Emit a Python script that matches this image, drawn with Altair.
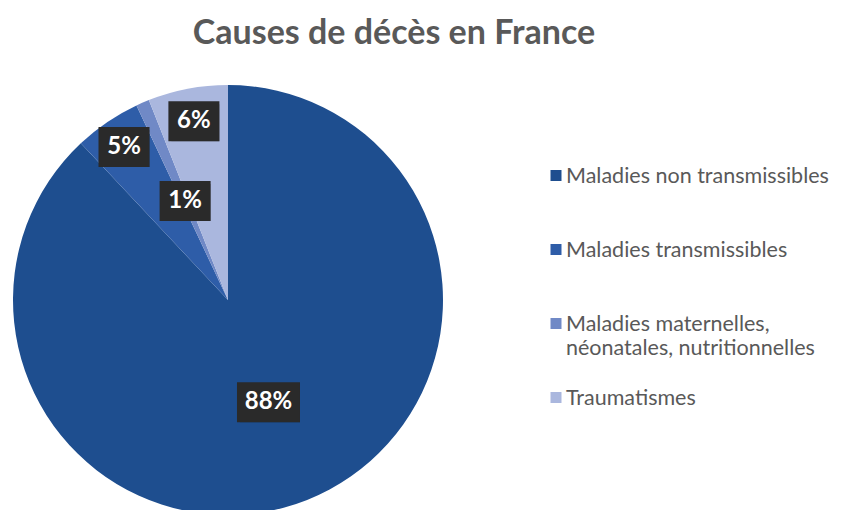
import altair as alt
import pandas as pd

# ---- data ----
TITLE = "Causes de décès en France"
categories = [
    "Maladies non transmissibles",
    "Maladies transmissibles",
    "Maladies maternelles, néonatales, nutritionnelles",
    "Traumatismes",
]
legend_labels = [
    "Maladies non transmissibles",
    "Maladies transmissibles",
    "Maladies maternelles,\nnéonatales, nutritionnelles",
    "Traumatismes",
]
percentages = [88, 5, 1, 6]
labels = ["88%", "5%", "1%", "6%"]

# ---- style / layout ----
colors = ["#1E4E8F", "#2E5DA8", "#7089C6", "#AAB7DE"]
label_radius = [110, 185, 108, 182]
W, H = 829, 502
CX, CY, R = 220, 292, 215
LEG_X, LEG_Y0, LEG_STEP = 548, 167.5, 74
FONT = "Lato"
GREY = "#595959"

df = pd.DataFrame({
    "cause": categories,
    "legend": legend_labels,
    "value": percentages,
    "label": labels,
    "idx": list(range(len(categories))),
    "lr": label_radius,
})

color = alt.Color("cause:N", scale=alt.Scale(domain=categories, range=colors), legend=None)
base = alt.Chart(df)

pie = base.mark_arc(outerRadius=R).encode(
    theta=alt.Theta("value:Q", stack=True),
    order=alt.Order("idx:Q"),
    color=color,
    x=alt.value(CX),
    y=alt.value(CY),
)

lab = base.transform_window(
    cum="sum(value)", frame=[None, 0], sort=[{"field": "idx"}]
).transform_joinaggregate(
    total="sum(value)"
).transform_calculate(
    mid="(datum.cum - datum.value/2)/datum.total*2*PI",
    px=f"{CX} + datum.lr*sin(datum.mid)",
    py=f"{CY} - datum.lr*cos(datum.mid)",
    bw="length(datum.label) > 2 ? 63 : 51",
    bx1="datum.px - datum.bw/2",
    bx2="datum.px + datum.bw/2",
    by1="datum.py - 20",
    by2="datum.py + 20",
)

shadow = lab.mark_rect(color="#000000", opacity=0.3, xOffset=3, yOffset=3).encode(
    x=alt.X("bx1:Q", scale=None, axis=None), x2="bx2:Q",
    y=alt.Y("by1:Q", scale=None, axis=None), y2="by2:Q",
)
box = lab.mark_rect(color="#2A2A2A").encode(
    x=alt.X("bx1:Q", scale=None, axis=None), x2="bx2:Q",
    y=alt.Y("by1:Q", scale=None, axis=None), y2="by2:Q",
)
txt = lab.mark_text(
    color="white", font=FONT, fontWeight="bold", fontSize=24,
    align="center", baseline="middle",
).encode(
    x=alt.X("px:Q", scale=None, axis=None),
    y=alt.Y("py:Q", scale=None, axis=None),
    text="label:N",
)

leg = base.transform_calculate(ly=f"{LEG_Y0} + datum.idx*{LEG_STEP}")
leg_sym = leg.mark_square(size=121, opacity=1).encode(
    x=alt.value(LEG_X),
    y=alt.Y("ly:Q", scale=None, axis=None),
    color=color,
)
leg_txt = leg.mark_text(
    font=FONT, fontSize=21.5, color=GREY, align="left", baseline="top",
    dy=-10, lineBreak="\n", lineHeight=24,
).encode(
    x=alt.value(LEG_X + 10),
    y=alt.Y("ly:Q", scale=None, axis=None),
    text="legend:N",
)

title = alt.Chart(pd.DataFrame({"t": [TITLE]})).mark_text(
    font=FONT, fontWeight="bold", fontSize=34, color=GREY,
    align="center", baseline="alphabetic",
).encode(text="t:N", x=alt.value(386), y=alt.value(36))

chart = alt.layer(pie, shadow, box, txt, leg_sym, leg_txt, title).properties(
    width=W, height=H, padding=0, autosize=alt.AutoSizeParams(type="none"),
    background="white",
).configure_view(stroke=None)

chart.save("out.html", embed_options={"renderer": "svg", "actions": False})
